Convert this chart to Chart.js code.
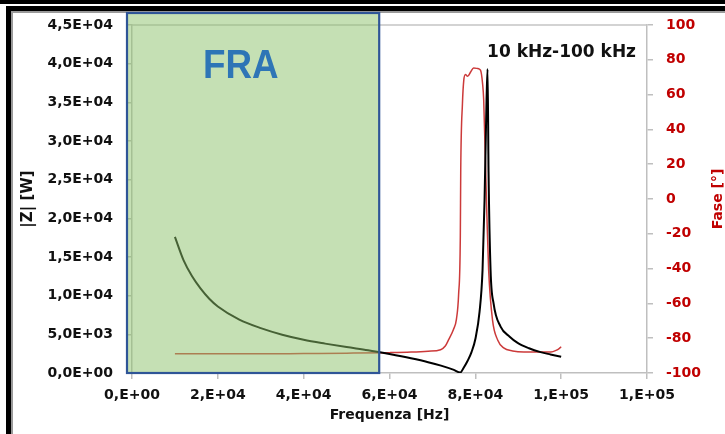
<!DOCTYPE html>
<html>
<head>
<meta charset="utf-8">
<script src="https://cdn.jsdelivr.net/npm/chart.js@4"></script>
<style>
    body { margin: 0; background: #fff; }
    canvas { display: block; }
</style>
</head>
<body>
<canvas id="chart-fra" width="725" height="434"></canvas>
<script>
// Impedance modulus |Z| (left axis) vs frequency
const freqZ = [10000, 12000, 14000, 16000, 18000, 20000, 25000, 30000, 35000, 40000, 45000, 50000,
    55000, 60000, 65000, 69000, 72000, 75000, 76500, 77250, 78180, 79110, 80050, 80980, 81680,
    82150, 82610, 82850, 83080, 83550, 84250, 85880, 88000, 89850, 92500, 95200, 97500, 100000];
const zValues = [17600, 14600, 12500, 10900, 9600, 8600, 6900, 5800, 4950, 4300, 3800, 3350,
    2950, 2450, 1900, 1400, 950, 400, 60, 650, 1550, 2700, 4500, 7900, 13300,
    22400, 35300, 39300, 26000, 13300, 9000, 6000, 4700, 3900, 3200, 2700, 2400, 2100];

// Phase (right axis) vs frequency
const freqPhase = [10000, 20000, 30000, 40000, 50000, 60000, 65000, 69000, 71900, 73000, 73750,
    74900, 75600, 76100, 76500, 76600, 77000, 77300, 77700, 78200, 78900, 79600, 80500, 81200,
    81700, 81950, 82400, 82700, 83100, 84000, 85200, 86600, 88700, 91300, 97600, 98800, 99600, 100000];
const phaseValues = [-89, -89, -89, -88.8, -88.6, -88.3, -88, -87.5, -86.6, -84.5, -81,
    -75, -69, -55, -21.8, 16.7, 55, 68, 71.5, 70.5, 73, 75.3, 75, 74,
    66, 56.9, 16.7, -10, -40.8, -69.5, -81, -85.6, -87.3, -87.9, -87.9, -87, -85.8, -84.9];

const xTicks = [0, 20000, 40000, 60000, 80000, 100000, 120000];
const fraRange = [0, 57600];

const FONT = 'DejaVu Sans';

function fmtSci(v, decimals) {
    if (v === 0) return (decimals ? '0,' + '0'.repeat(decimals) : '0,') + 'E+00';
    const e = Math.floor(Math.log10(Math.abs(v)));
    const m = v / Math.pow(10, e);
    const s = decimals ? m.toFixed(decimals).replace('.', ',') : Math.round(m) + ',';
    return s + 'E+' + String(e).padStart(2, '0');
}

// Frame, plot border, FRA box and texts
const decorPlugin = {
    id: 'decor',
    beforeDraw(chart) {
        const ctx = chart.ctx;
        ctx.save();
        ctx.fillStyle = '#fff';
        ctx.fillRect(0, 0, chart.width, chart.height);
        ctx.fillStyle = '#000';
        ctx.fillRect(0, 0, chart.width, 4);
        ctx.fillRect(6, 6, chart.width - 6, 5);
        ctx.fillRect(6, 6, 5, chart.height - 6);
        ctx.fillStyle = '#9a9a9a';
        ctx.fillRect(11, 11, chart.width - 11, 2);
        ctx.fillRect(11, 11, 2, chart.height - 11);
        ctx.restore();
    },
    afterDatasetsDraw(chart) {
        const ctx = chart.ctx;
        const area = chart.chartArea;
        const x = chart.scales.x;
        ctx.save();
        // top border of plot area
        ctx.strokeStyle = '#c4c4c4';
        ctx.lineWidth = 1.5;
        ctx.beginPath();
        ctx.moveTo(area.left, area.top);
        ctx.lineTo(area.right, area.top);
        ctx.stroke();

        // FRA highlight box (semi transparent, over the curves)
        const bx0 = x.getPixelForValue(fraRange[0]) - 5;
        const bx1 = x.getPixelForValue(fraRange[1]);
        const by0 = area.top - 12;
        const by1 = area.bottom;
        ctx.fillStyle = 'rgba(139, 193, 105, 0.5)';
        ctx.fillRect(bx0, by0, bx1 - bx0, by1 - by0);
        ctx.strokeStyle = '#2f5597';
        ctx.lineWidth = 2.2;
        ctx.strokeRect(bx0, by0, bx1 - bx0, by1 - by0);

        // FRA label
        ctx.fillStyle = '#2e75b6';
        ctx.font = 'bold 40px "Liberation Sans"';
        ctx.textBaseline = 'alphabetic';
        ctx.textAlign = 'left';
        ctx.translate(bx0 + 76, area.top + 53);
        ctx.scale(0.92, 1);
        ctx.fillText('FRA', 0, 0);
        ctx.restore();

        ctx.save();
        ctx.fillStyle = '#111';
        ctx.font = 'bold 17px "' + FONT + '"';
        ctx.textAlign = 'right';
        ctx.textBaseline = 'alphabetic';
        ctx.fillText('10 kHz-100 kHz', area.right - 11, area.top + 32);

        // right axis title, reads bottom to top
        ctx.fillStyle = '#c00000';
        ctx.font = 'bold 14px "' + FONT + '"';
        ctx.textAlign = 'center';
        ctx.textBaseline = 'middle';
        ctx.translate(718, (area.top + area.bottom) / 2);
        ctx.rotate(-Math.PI / 2);
        ctx.fillText('Fase [°]', 0, 0);
        ctx.restore();
    }
};

new Chart(document.getElementById('chart-fra'), {
    type: 'line',
    data: {
        datasets: [{
            label: '|Z|',
            data: freqZ.map((f, i) => ({ x: f, y: zValues[i] })),
            borderColor: '#000',
            borderWidth: 2,
            pointRadius: 0,
            cubicInterpolationMode: 'monotone',
            yAxisID: 'y'
        }, {
            label: 'Fase',
            data: freqPhase.map((f, i) => ({ x: f, y: phaseValues[i] })),
            borderColor: '#cc3a3a',
            borderWidth: 1.5,
            pointRadius: 0,
            cubicInterpolationMode: 'monotone',
            yAxisID: 'y1'
        }]
    },
    options: {
        responsive: false,
        animation: false,
        layout: { padding: { top: 25, left: 0, right: 0, bottom: 0 } },
        plugins: {
            legend: { display: false },
            tooltip: { enabled: false }
        },
        scales: {
            x: {
                type: 'linear',
                min: 0,
                max: 120000,
                afterBuildTicks: s => { s.ticks = xTicks.map(v => ({ value: v })); },
                afterFit: s => { s.height = 61; },
                grid: { drawOnChartArea: false, color: '#bfbfbf', tickLength: 6, lineWidth: 1.5 },
                border: { color: '#bfbfbf', width: 1.5 },
                ticks: {
                    autoSkip: false,
                    maxRotation: 0,
                    padding: 8,
                    color: '#111',
                    font: { family: FONT, size: 14, weight: 'bold' },
                    callback: v => fmtSci(v, 0)
                },
                title: {
                    display: true,
                    text: 'Frequenza [Hz]',
                    color: '#111',
                    font: { family: FONT, size: 14, weight: 'bold' },
                    padding: { top: 0, bottom: 10 }
                }
            },
            y: {
                position: 'left',
                min: 0,
                max: 45000,
                ticks: {
                    stepSize: 5000,
                    padding: 13,
                    color: '#111',
                    font: { family: FONT, size: 14, weight: 'bold' },
                    callback: v => fmtSci(v, 1)
                },
                afterFit: s => { s.width = 132; },
                grid: { drawOnChartArea: false, color: '#bfbfbf', tickLength: 6, lineWidth: 1.5 },
                border: { color: '#bfbfbf', width: 1.5 },
                title: {
                    display: true,
                    text: '|Z| [W]',
                    color: '#111',
                    font: { family: FONT, size: 15, weight: 'bold' },
                    padding: { top: 19, bottom: 0 }
                }
            },
            y1: {
                position: 'right',
                min: -100,
                max: 100,
                ticks: {
                    stepSize: 20,
                    padding: 13,
                    color: '#c00000',
                    font: { family: FONT, size: 14, weight: 'bold' }
                },
                afterFit: s => { s.width = 78; },
                grid: { drawOnChartArea: false, color: '#bfbfbf', tickLength: 6, lineWidth: 1.5 },
                border: { color: '#bfbfbf', width: 1.5 }
            }
        }
    },
    plugins: [decorPlugin]
});
</script>
</body>
</html>
